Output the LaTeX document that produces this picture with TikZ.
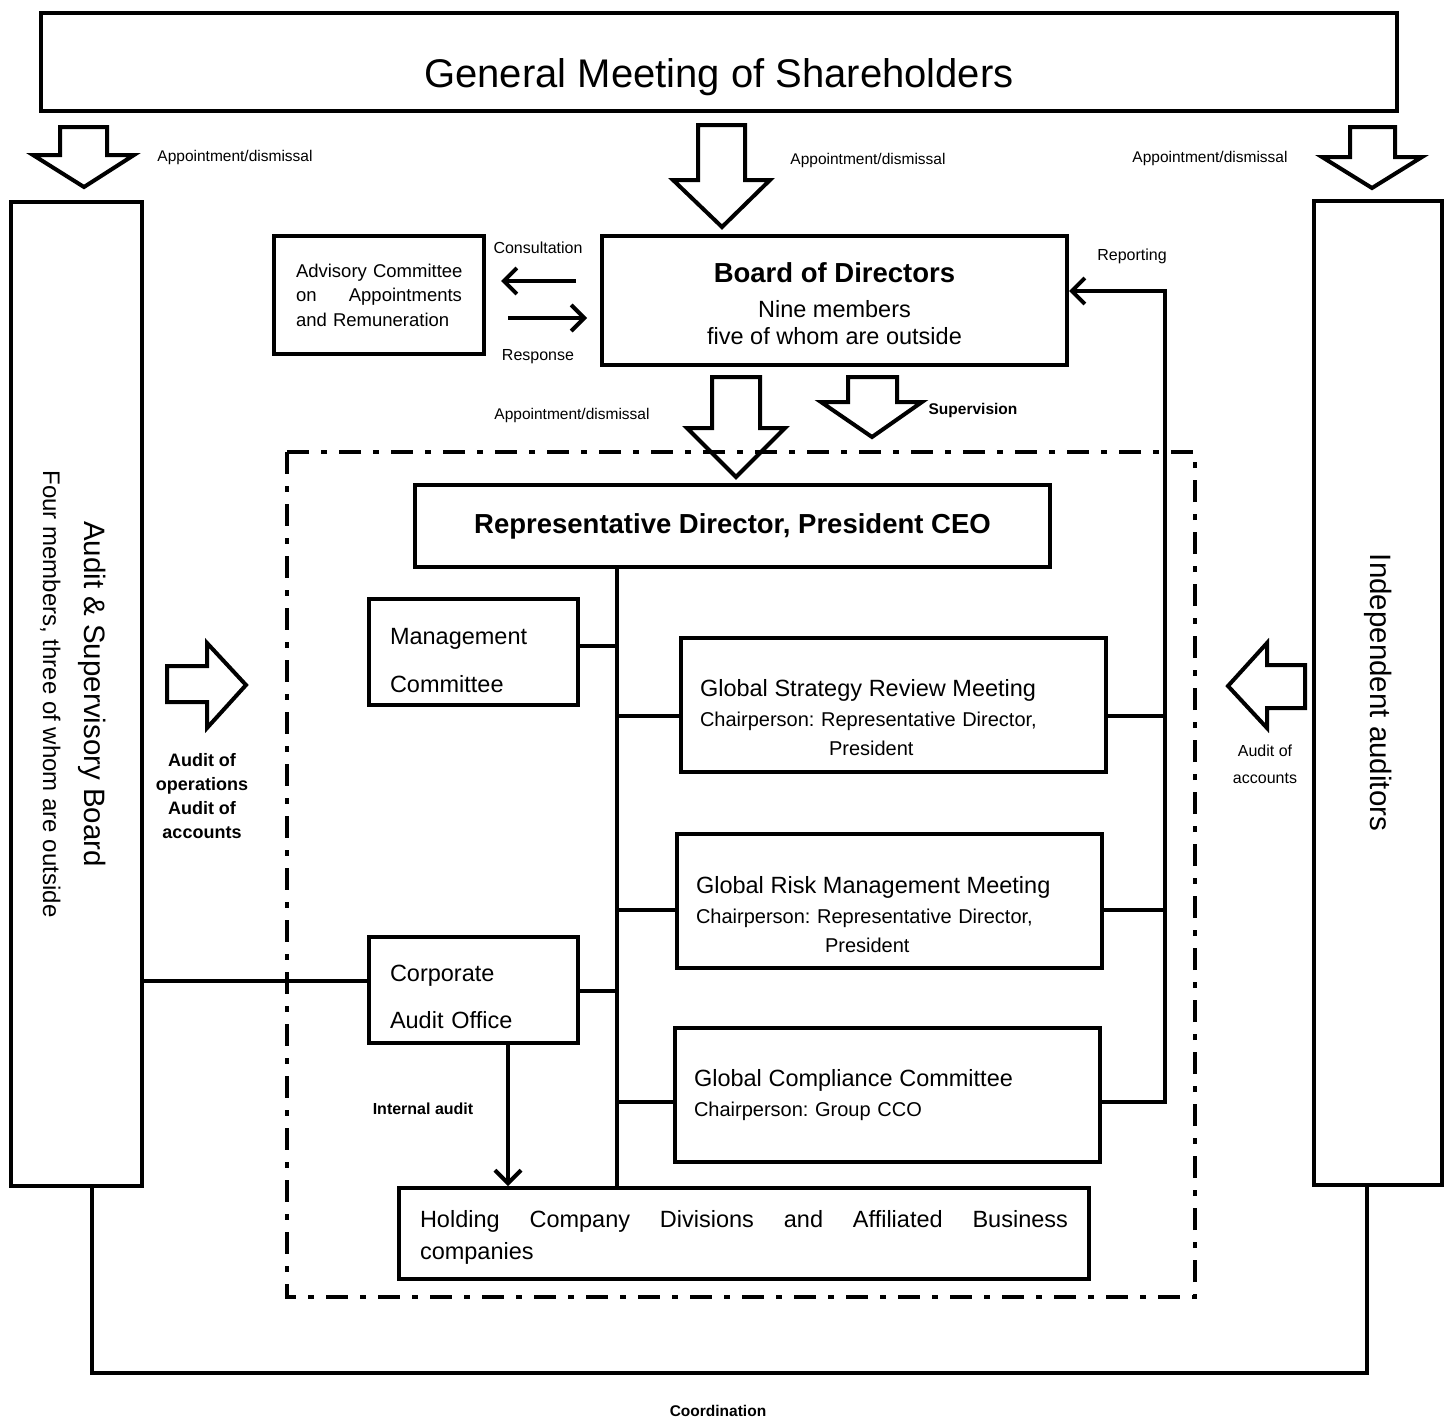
\documentclass[tikz,border=0pt]{standalone}
\usepackage{fontspec}
\setmainfont{Liberation Sans}
\usetikzlibrary{positioning,arrows.meta}
\frenchspacing

\begin{document}
\begin{tikzpicture}[x=1pt, y=-1pt,
  box/.style={draw, line width=4pt, inner sep=0pt},
  blk/.style={draw, line width=4pt, line join=miter},
  line/.style={line width=4pt},
  arr/.style={line width=4pt, -{Straight Barb[length=13pt, width=26pt]}},
  zone/.style={line width=4.5pt, dash pattern=on 22pt off 12pt on 6pt off 12pt},
  small/.style={font=\fontsize{15.5}{18}\selectfont},
  smallb/.style={font=\bfseries\fontsize{16}{24}\selectfont},
  body/.style={font=\fontsize{23.5}{30}\selectfont},
  meet/.style={box, minimum width=425pt, minimum height=134pt, text width=387pt, align=left,
    font=\fontsize{20}{29.5}\selectfont},
  ]
  \useasboundingbox (0,0) rectangle (1454,1421);

  % shareholders and the two side bodies
  \node[box, minimum width=1356pt, minimum height=98pt, text height=60pt, text depth=8pt,
    font=\fontsize{40}{48}\selectfont] (gms) at (719,62)
    {General Meeting of Shareholders};
  \node[box, rotate=-90, minimum width=984pt, minimum height=131pt, align=center,
    font=\fontsize{24}{41}\selectfont] (asb) at (76.5,694)
    {{\fontsize{29.5}{34}\selectfont\rule{0pt}{29pt}Audit \& Supervisory Board}\\Four members, three of whom are outside};
  \node[box, rotate=-90, minimum width=984pt, minimum height=128pt, font=\fontsize{29.5}{34}\selectfont] (ind) at (1378,692.5)
    {Independent auditors};

  % board level
  \node[box, minimum width=465pt, minimum height=129pt, align=center, font=\fontsize{23.5}{27}\selectfont] (bod) at (834.5,300.5)
    {{\bfseries\fontsize{27.5}{32}\selectfont\rule{0pt}{26pt}Board of Directors}\\[8pt]Nine members\\five of whom are outside};
  \node[box, minimum width=210pt, minimum height=118pt, text width=166pt, align=left,
    font=\fontsize{18.5}{24.5}\selectfont] (adv) at (379,295)
    {\mbox{Advisory Committee}\\on\hfill Appointments\\and Remuneration};

  % executive level
  \node[box, minimum width=635pt, minimum height=82pt, font=\bfseries\fontsize{27.5}{32}\selectfont] (rep) at (732.5,526)
    {Representative Director, President CEO};
  \node[box, body, minimum width=209pt, minimum height=106pt, text width=167pt, align=left,
    font=\fontsize{23.5}{48}\selectfont] (mgt) at (473.5,652)
    {\rule{0pt}{33pt}Management\\Committee};
  \node[box, body, minimum width=209pt, minimum height=106pt, text width=167pt, align=left,
    font=\fontsize{23.5}{47}\selectfont] (cao) at (473.5,990)
    {\rule{0pt}{31pt}Corporate\\Audit Office};
  \node[meet] (gsr) at (893.5,705)
    {{\fontsize{23.5}{28}\selectfont\rule{0pt}{43pt}Global Strategy Review Meeting}\\Chairperson: Representative Director,\\\hspace*{129pt}President};
  \node[meet] (grm) at (889.5,901)
    {{\fontsize{23.5}{28}\selectfont\rule{0pt}{45pt}Global Risk Management Meeting}\\Chairperson: Representative Director,\\\hspace*{129pt}President};
  \node[meet] (gcc) at (887.5,1095)
    {{\fontsize{23.5}{28}\selectfont Global Compliance Committee}\\Chairperson: Group CCO};
  \node[box, body, minimum width=690pt, minimum height=91pt, text width=648pt, align=left,
    font=\fontsize{23.5}{32}\selectfont] (hld) at (744,1233.5)
    {\rule{0pt}{25pt}Holding\hfill Company\hfill Divisions\hfill and\hfill Affiliated\hfill Business\\companies};

  % execution area
  \draw[zone] (287,452) rectangle (1195,1297);

  % block arrows
  \draw[blk] (60,127) -- (107,127) -- (107,155) -- (134,155) -- (84,187) -- (33,155) -- (60,155) -- cycle;
  \draw[blk] (698,125) -- (745,125) -- (745,180) -- (770,180) -- (722,227) -- (673,180) -- (698,180) -- cycle;
  \draw[blk] (1350,127) -- (1395,127) -- (1395,157) -- (1422,157) -- (1372,188) -- (1322,157) -- (1350,157) -- cycle;
  \draw[blk] (712,377) -- (760,377) -- (760,428) -- (785,428) -- (736,477) -- (687,428) -- (712,428) -- cycle;
  \draw[blk] (848,377) -- (897,377) -- (897,402) -- (922,402) -- (872,437) -- (821,402) -- (848,402) -- cycle;
  \draw[blk] (167,666) -- (207,666) -- (207,643) -- (246,685) -- (207,728) -- (207,702) -- (167,702) -- cycle;
  \draw[blk] (1305,665) -- (1267,665) -- (1267,643) -- (1228,686) -- (1267,728) -- (1267,708) -- (1305,708) -- cycle;

  % labels
  \node[small] (lapl) at (235,157) {Appointment/dismissal};
  \node[small] (lapc) at (868,160) {Appointment/dismissal};
  \node[small] (lapr) at (1210,158) {Appointment/dismissal};
  \node[small] (lapb) at (572,415) {Appointment/dismissal};
  \node[smallb, font=\bfseries\fontsize{15.5}{18}\selectfont] (lsup) at (973,410) {Supervision};
  \node[small, font=\fontsize{16}{18}\selectfont] (lcon) at (538,248) {Consultation};
  \node[small, font=\fontsize{16}{18}\selectfont] (lres) at (538,357) {Response};
  \node[small, font=\fontsize{16}{18}\selectfont] (lrep) at (1132,256) {Reporting};
  \node[smallb, align=center, font=\bfseries\fontsize{18}{24}\selectfont] (lasb) at (202,796)
    {Audit of\\operations\\Audit of\\accounts};
  \node[small, align=center, font=\fontsize{16}{27}\selectfont] (lind) at (1265,764) {Audit of\\accounts};
  \node[smallb] (lint) at (423,1109) {Internal audit};
  \node[smallb, font=\bfseries\fontsize{15.5}{18}\selectfont] (lcoo) at (718,1411) {Coordination};

  % connectors
  \coordinate (trk) at (617,0);
  \coordinate (rpt) at (1165,0);
  \coordinate (cy) at (0,281);
  \coordinate (ry) at (0,318);
  \coordinate (iax) at (508,0);
  \coordinate (crl) at (92,1373);
  \coordinate (crr) at (1367,1373);

  \draw[arr] ([xshift=-24pt]bod.west |- cy) -- ([xshift=15pt]adv.east |- cy);
  \draw[arr] ([xshift=22pt]adv.east |- ry) -- ([xshift=-13pt]bod.west |- ry);

  \draw[line] (rep.south -| trk) -- (hld.north -| trk);
  \draw[line] ([yshift=6pt]mgt.east) -- ([yshift=6pt]mgt.east -| trk);
  \draw[line] ([yshift=-1pt]cao.east) -- ([yshift=-1pt]cao.east -| trk);
  \draw[line] ([yshift=-11pt]gsr.west) -- ([yshift=-11pt]gsr.west -| trk);
  \draw[line] ([yshift=-9pt]grm.west) -- ([yshift=-9pt]grm.west -| trk);
  \draw[line] ([yshift=-7pt]gcc.west) -- ([yshift=-7pt]gcc.west -| trk);

  \draw[line] ([yshift=-11pt]gsr.east) -- ([yshift=-11pt]gsr.east -| rpt);
  \draw[line] ([yshift=-9pt]grm.east) -- ([yshift=-9pt]grm.east -| rpt);
  \draw[arr] ([yshift=-7pt]gcc.east) -- ([yshift=-7pt]gcc.east -| rpt)
    -- ([yshift=9.5pt]bod.east -| rpt) -- ([yshift=9.5pt]bod.east);

  % rotated side boxes: north is their right side, east their bottom
  \draw[line] ([yshift=9pt]cao.west) -- ([yshift=9pt]cao.west -| asb.north);
  \draw[arr] (cao.south -| iax) -- (hld.north -| iax);
  \draw[line] (asb.east -| crl) -- (crl) -- (crr) -- (ind.east -| crr);
\end{tikzpicture}
\end{document}
